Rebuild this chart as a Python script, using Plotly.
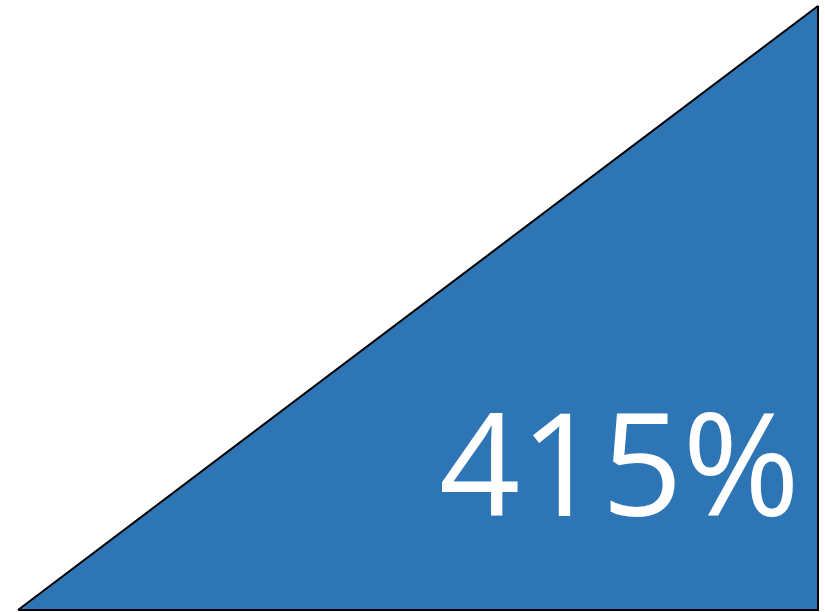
import plotly.graph_objects as go

# Data
triangle_x = [0, 1, 1, 0]
triangle_y = [0, 1, 0, 0]
value_pct = 415
label = f"{value_pct}%"

fig = go.Figure()
fig.add_trace(go.Scatter(
    x=triangle_x, y=triangle_y, mode="lines", fill="toself",
    fillcolor="#2E75B6", line=dict(color="black", width=2),
    hoverinfo="skip", showlegend=False))

fig.add_annotation(
    x=0.98, y=0.0825, xref="x", yref="y", text=label, showarrow=False,
    xanchor="right", yanchor="bottom",
    font=dict(family="Open Sans", size=142, color="white"))

fig.update_xaxes(range=[-18/800, 807/800], visible=False, fixedrange=True)
fig.update_yaxes(range=[-2/604, 1 + 6/604], visible=False, fixedrange=True)
fig.update_layout(width=825, height=612, margin=dict(l=0, r=0, t=0, b=0),
                  paper_bgcolor="white", plot_bgcolor="white")
fig.write_html("out.html", config={"displayModeBar": False})
